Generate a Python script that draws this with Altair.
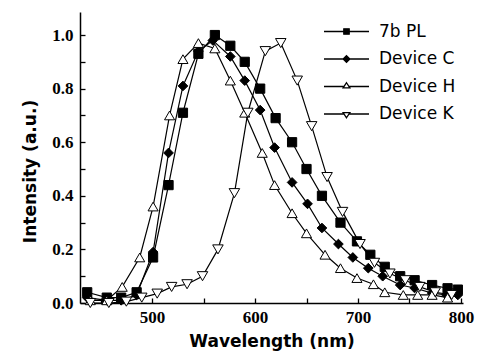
import altair as alt
import pandas as pd

series_names = ["7b PL", "Device C", "Device H", "Device K"]

pl_wl = [437, 456, 470, 485, 501, 516, 530, 545, 561, 576, 590, 605, 620, 636, 650, 665, 683, 699, 712, 726, 741, 755, 772, 787, 797]
pl_int = [0.04, 0.02, 0.02, 0.04, 0.17, 0.44, 0.71, 0.93, 1.0, 0.96, 0.90, 0.80, 0.69, 0.60, 0.50, 0.40, 0.30, 0.23, 0.18, 0.135, 0.10, 0.085, 0.067, 0.055, 0.05]

c_wl = [437, 456, 470, 485, 501, 516, 530, 545, 559, 576, 590, 605, 619, 636, 651, 665, 681, 695, 710, 724, 741, 755, 772, 786, 797]
c_int = [0.02, 0.01, 0.01, 0.03, 0.19, 0.56, 0.81, 0.94, 0.98, 0.92, 0.83, 0.72, 0.58, 0.45, 0.37, 0.28, 0.22, 0.17, 0.13, 0.10, 0.067, 0.056, 0.037, 0.03, 0.03]

h_wl = [440, 456, 471, 488, 501, 517, 530, 545, 561, 576, 590, 607, 619, 636, 650, 668, 683, 699, 715, 726, 744, 758, 772, 787]
h_int = [0.01, 0.01, 0.06, 0.17, 0.36, 0.70, 0.91, 0.97, 0.95, 0.83, 0.71, 0.56, 0.44, 0.335, 0.26, 0.18, 0.13, 0.093, 0.07, 0.04, 0.03, 0.03, 0.03, 0.02]

k_wl = [440, 458, 475, 490, 505, 519, 534, 549, 564, 580, 593, 610, 625, 641, 655, 670, 685, 702, 716, 731, 746, 760, 775, 791]
k_int = [0.0, 0.0, 0.005, 0.02, 0.035, 0.06, 0.07, 0.10, 0.20, 0.41, 0.71, 0.94, 0.97, 0.83, 0.66, 0.47, 0.34, 0.22, 0.15, 0.11, 0.085, 0.06, 0.04, 0.03]

x_ticks = [450, 500, 550, 600, 650, 700, 750, 800]
x_labels = [500, 600, 700, 800]
y_ticks = [0.0, 0.1, 0.2, 0.3, 0.4, 0.5, 0.6, 0.7, 0.8, 0.9, 1.0]
y_labels = [0.0, 0.2, 0.4, 0.6, 0.8, 1.0]

rows = []
for name, xs, ys in zip(series_names, [pl_wl, c_wl, h_wl, k_wl], [pl_int, c_int, h_int, k_int]):
    for i, (x, y) in enumerate(zip(xs, ys)):
        rows.append({"series": name, "wl": x, "I": y, "idx": i})
df = pd.DataFrame(rows)

W, H = 383, 291
xscale = alt.Scale(domain=[430, 802], nice=False, zero=False)
yscale = alt.Scale(domain=[0, 1.086], nice=False, zero=False)

label_font = dict(labelFont="Liberation Serif", labelFontWeight="bold", labelFontSize=17, labelColor="black")
title_font = dict(titleFont="DejaVu Sans", titleFontWeight="bold", titleFontSize=17, titleColor="black")

x_main = alt.X("wl:Q", scale=xscale, axis=alt.Axis(
    title="Wavelength (nm)", values=x_labels, format=".0f", ticks=False, tickSize=0, grid=False,
    labelPadding=6, titlePadding=8, domainColor="black", domainWidth=1.5, **label_font, **title_font))
y_main = alt.Y("I:Q", scale=yscale, axis=alt.Axis(
    title="Intensity (a.u.)", values=y_labels, format=".1f", ticks=False, tickSize=0, grid=False,
    labelPadding=7, titlePadding=12, titleY=159, domainColor="black", domainWidth=1.5, **label_font, **title_font))

x_tick = alt.X("wl:Q", scale=xscale, axis=alt.Axis(
    orient="top", offset=-H, values=x_ticks, labels=False, domain=False, grid=False, title=None,
    tickSize=5, tickColor="black", tickWidth=1.3))
y_tick = alt.Y("I:Q", scale=yscale, axis=alt.Axis(
    orient="right", offset=-W, values=y_ticks, labels=False, domain=False, grid=False, title=None,
    tickSize=5, tickColor="black", tickWidth=1.3))

lines = alt.Chart(df).mark_line(color="black", strokeWidth=1.2).encode(
    x=x_main, y=y_main, detail="series:N", order="idx:Q")

points = alt.Chart(df).mark_point(stroke="black", strokeWidth=1, opacity=1).encode(
    x=x_tick, y=y_tick,
    shape=alt.Shape("series:N", scale=alt.Scale(domain=series_names,
        range=["square", "diamond", "triangle-up", "triangle-down"]), legend=None),
    fill=alt.Fill("series:N", scale=alt.Scale(domain=series_names,
        range=["black", "black", "white", "white"]), legend=None),
    size=alt.Size("series:N", scale=alt.Scale(domain=series_names, range=[85, 110, 140, 140]), legend=None),
)

leg_paths = [
    "M-3,0H3M-0.36,-0.36H0.36V0.36H-0.36Z",
    "M-3,0H3M0,-0.45L0.45,0L0,0.45L-0.45,0Z",
    "M-3,0H-0.32M0.32,0H3M0,-0.5L0.45,0.18H-0.45Z",
    "M-3,0H-0.32M0.32,0H3M0,0.5L0.45,-0.18H-0.45Z",
]
leg = alt.Legend(title=None, orient="none", legendX=258, legendY=11)
legend_layer = alt.Chart(df).transform_filter("false").mark_point(opacity=1).encode(
    x=alt.X("wl:Q", scale=xscale, axis=None),
    y=alt.Y("I:Q", scale=yscale, axis=None),
    shape=alt.Shape("series:N", scale=alt.Scale(domain=series_names, range=leg_paths), legend=leg),
    fill=alt.Fill("series:N", scale=alt.Scale(domain=series_names, range=["black", "black", "white", "white"]), legend=leg),
    stroke=alt.Stroke("series:N", scale=alt.Scale(domain=series_names, range=["black", "black", "black", "black"]), legend=leg),
)

chart = alt.layer(lines, points, legend_layer).resolve_scale(
    shape="independent", fill="independent", size="independent", stroke="independent"
).resolve_axis(x="independent", y="independent").properties(
    width=W, height=H,
    autosize=alt.AutoSizeParams(type="none"),
    padding={"left": 80, "top": 12, "right": 16, "bottom": 57},
).configure(background="white").configure_view(stroke=None).configure_legend(
    symbolSize=225, symbolStrokeWidth=1.3, symbolStrokeColor="black",
    labelFont="DejaVu Sans", labelFontSize=17, labelColor="black", labelOffset=24,
    rowPadding=9.5, padding=0,
)

chart.save("out.html", embed_options={"renderer": "svg", "actions": False})
